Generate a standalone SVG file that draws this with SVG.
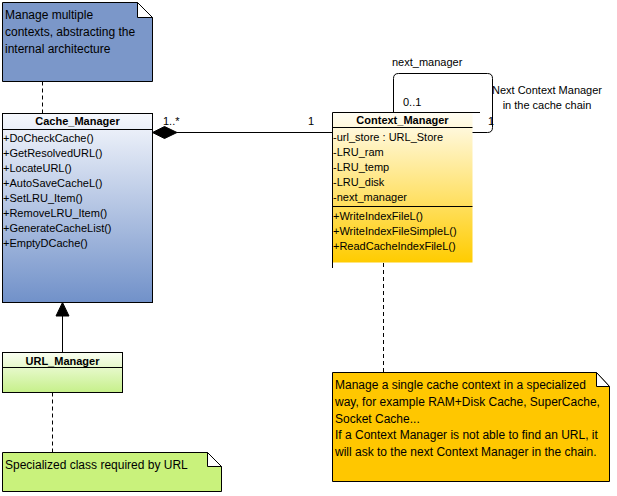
<svg xmlns="http://www.w3.org/2000/svg" width="617" height="496" viewBox="0 0 617 496">
<defs>
<linearGradient id="gBlue" x1="0" y1="0" x2="0" y2="1"><stop offset="0" stop-color="#f6f8fd"/><stop offset="1" stop-color="#7191c9"/></linearGradient>
<linearGradient id="gGold" x1="0" y1="0" x2="0" y2="1"><stop offset="0" stop-color="#fffdf4"/><stop offset="1" stop-color="#ffcc00"/></linearGradient>
<linearGradient id="gGreen" x1="0" y1="0" x2="0" y2="1"><stop offset="0" stop-color="#fafef2"/><stop offset="1" stop-color="#c6f08a"/></linearGradient>
</defs>
<style>
text{font-family:"Liberation Sans",Arial,sans-serif;fill:#000}
.t{font-size:11px;font-weight:bold;text-anchor:middle}
.m{font-size:11px}
.n{font-size:12px}
.l{font-size:11px}
.s{stroke:#000;stroke-width:1;fill:none}
.d{stroke:#000;stroke-width:1;fill:none;stroke-dasharray:4 3}
.fold{fill:#fff;stroke:#000;stroke-width:1}
</style>
<rect width="617" height="496" fill="#fff"/>

<g id="note-cache">
<path d="M2.5 2.5H137.5L152.5 17.5V81.5H2.5Z" fill="#7b97c9" stroke="#000"/>
<path d="M137.5 2.5V17.5H152.5Z" class="fold"/>
<text class="n" x="5" y="19">Manage multiple</text>
<text class="n" x="5" y="36">contexts, abstracting the</text>
<text class="n" x="5" y="52.5">internal architecture</text>
</g>

<g id="Cache_Manager">
<rect x="2.5" y="113.5" width="150" height="189" fill="url(#gBlue)" stroke="#000"/>
<line x1="2.5" y1="129.5" x2="152.5" y2="129.5" class="s"/>
<text class="t" x="77.5" y="125">Cache_Manager</text>
<text class="m" x="3" y="142">+DoCheckCache()</text>
<text class="m" x="3" y="157">+GetResolvedURL()</text>
<text class="m" x="3" y="172">+LocateURL()</text>
<text class="m" x="3" y="187">+AutoSaveCacheL()</text>
<text class="m" x="3" y="202">+SetLRU_Item()</text>
<text class="m" x="3" y="217">+RemoveLRU_Item()</text>
<text class="m" x="3" y="232">+GenerateCacheList()</text>
<text class="m" x="3" y="247">+EmptyDCache()</text>
</g>

<g id="Context_Manager">
<rect x="332.5" y="112.5" width="140" height="150" fill="url(#gGold)"/>
<line x1="332.5" y1="112.5" x2="480" y2="112.5" class="s"/>
<line x1="332.5" y1="112.5" x2="332.5" y2="268" class="s"/>
<line x1="332.5" y1="127.5" x2="472.5" y2="127.5" class="s"/>
<line x1="332.5" y1="206.5" x2="472.5" y2="206.5" class="s"/>
<text class="t" x="402.5" y="124">Context_Manager</text>
<text class="m" x="333" y="141">-url_store : URL_Store</text>
<text class="m" x="333" y="156">-LRU_ram</text>
<text class="m" x="333" y="171">-LRU_temp</text>
<text class="m" x="333" y="186">-LRU_disk</text>
<text class="m" x="333" y="201">-next_manager</text>
<text class="m" x="333" y="220">+WriteIndexFileL()</text>
<text class="m" x="333" y="235">+WriteIndexFileSimpleL()</text>
<text class="m" x="333" y="250">+ReadCacheIndexFileL()</text>
</g>

<g id="URL_Manager">
<rect x="2.5" y="352.5" width="120" height="40" fill="url(#gGreen)" stroke="#000"/>
<line x1="2.5" y1="367.5" x2="122.5" y2="367.5" class="s"/>
<text class="t" x="62.5" y="365">URL_Manager</text>
</g>

<g id="note-context">
<path d="M332.5 372.5H596.5L609.5 386.5V481.5H332.5Z" fill="#ffc700" stroke="#000"/>
<path d="M596.5 372.5V386.5H609.5Z" class="fold"/>
<text class="n" x="335" y="389">Manage a single cache context in a specialized</text>
<text class="n" x="335" y="406">way, for example RAM+Disk Cache, SuperCache,</text>
<text class="n" x="335" y="422.5">Socket Cache...</text>
<text class="n" x="335" y="439">If a Context Manager is not able to find an URL, it</text>
<text class="n" x="335" y="456">will ask to the next Context Manager in the chain.</text>
</g>

<g id="note-url">
<path d="M2.5 452.5H207.5L221.5 466.5V491.5H2.5Z" fill="#c9f27c" stroke="#000"/>
<path d="M207.5 452.5V466.5H221.5Z" class="fold"/>
<text class="n" x="5" y="469">Specialized class required by URL</text>
</g>

<g id="connectors">
<line x1="42.5" y1="81.5" x2="42.5" y2="113" class="d"/>
<line x1="383.5" y1="263" x2="383.5" y2="372" class="d"/>
<line x1="52.5" y1="392.5" x2="52.5" y2="452" class="d"/>
<line x1="177" y1="132.5" x2="332.5" y2="132.5" class="s"/>
<path d="M152.5 132.5L164.5 126.5L177 132.5L164.5 138.5Z" fill="#000" stroke="#000"/>
<line x1="62.5" y1="316" x2="62.5" y2="352.5" class="s"/>
<path d="M62.5 302.5L69 316L56 316Z" fill="#000" stroke="#000"/>
<path d="M393.5 112.5V78.5Q393.5 73.5 398.5 73.5H487.5Q492.5 73.5 492.5 78.5V127.5Q492.5 132.5 487.5 132.5H472.5" class="s"/>
<text class="l" x="163" y="125">1..*</text>
<text class="l" x="308" y="125">1</text>
<text class="l" x="392" y="66">next_manager</text>
<text class="l" x="403" y="106">0..1</text>
<text class="l" x="488" y="125">1</text>
<text class="l" x="547" y="94" text-anchor="middle">Next Context Manager</text>
<text class="l" x="547" y="109" text-anchor="middle">in the cache chain</text>
</g>
</svg>
